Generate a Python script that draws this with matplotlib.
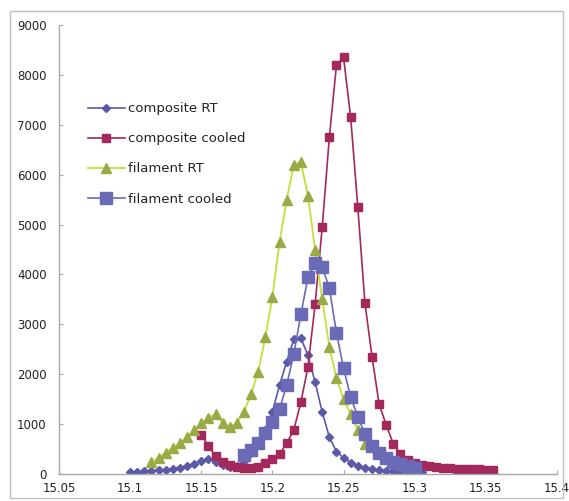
import matplotlib
matplotlib.use("Agg")
import matplotlib.pyplot as plt
from matplotlib.patches import Rectangle

# composite RT (diamonds)
x_comp_rt = [15.100, 15.105, 15.110, 15.115, 15.120, 15.125, 15.130, 15.135, 15.140, 15.145,
             15.150, 15.155, 15.160, 15.165, 15.170, 15.175, 15.180, 15.185, 15.190, 15.195,
             15.200, 15.205, 15.210, 15.215, 15.220, 15.225, 15.230, 15.235, 15.240, 15.245,
             15.250, 15.255, 15.260, 15.265, 15.270, 15.275, 15.280, 15.285, 15.290, 15.295,
             15.300, 15.305]
y_comp_rt = [40, 50, 55, 65, 75, 90, 110, 130, 160, 210,
             270, 300, 240, 180, 150, 160, 260, 420, 620, 880,
             1250, 1780, 2250, 2700, 2720, 2380, 1840, 1240, 740, 450,
             320, 230, 170, 130, 100, 80, 65, 55, 45, 40,
             35, 30]

# composite cooled (small squares)
x_comp_cool = [15.150, 15.155, 15.160, 15.165, 15.170, 15.175, 15.180, 15.185, 15.190, 15.195,
               15.200, 15.205, 15.210, 15.215, 15.220, 15.225, 15.230, 15.235, 15.240, 15.245,
               15.250, 15.255, 15.260, 15.265, 15.270, 15.275, 15.280, 15.285, 15.290, 15.295,
               15.300, 15.305, 15.310, 15.315, 15.320, 15.325, 15.330, 15.335, 15.340, 15.345,
               15.350, 15.355]
y_comp_cool = [780, 560, 360, 250, 190, 150, 130, 120, 150, 220,
               300, 400, 620, 880, 1440, 2150, 3400, 4950, 6750, 8200,
               8350, 7150, 5350, 3430, 2350, 1400, 980, 600, 400, 290,
               230, 190, 165, 145, 130, 120, 110, 105, 100, 95,
               90, 80]

# filament RT (triangles)
x_fil_rt = [15.115, 15.120, 15.125, 15.130, 15.135, 15.140, 15.145, 15.150, 15.155, 15.160,
            15.165, 15.170, 15.175, 15.180, 15.185, 15.190, 15.195, 15.200, 15.205, 15.210,
            15.215, 15.220, 15.225, 15.230, 15.235, 15.240, 15.245, 15.250, 15.255, 15.260,
            15.265]
y_fil_rt = [240, 330, 430, 530, 620, 740, 880, 1020, 1130, 1200,
            1030, 950, 1020, 1250, 1600, 2050, 2740, 3550, 4650, 5500,
            6200, 6250, 5580, 4500, 3500, 2550, 1920, 1500, 1200, 880,
            600]

# filament cooled (big squares)
x_fil_cool = [15.180, 15.185, 15.190, 15.195, 15.200, 15.205, 15.210, 15.215, 15.220, 15.225,
              15.230, 15.235, 15.240, 15.245, 15.250, 15.255, 15.260, 15.265, 15.270, 15.275,
              15.280, 15.285, 15.290, 15.295, 15.300]
y_fil_cool = [380, 480, 620, 820, 1050, 1300, 1780, 2400, 3200, 3950,
              4230, 4150, 3730, 2830, 2120, 1540, 1150, 800, 560, 420,
              320, 250, 200, 160, 130]

x_ticks = [15.05, 15.1, 15.15, 15.2, 15.25, 15.3, 15.35, 15.4]
x_labels = ["15.05", "15.1", "15.15", "15.2", "15.25", "15.3", "15.35", "15.4"]
y_ticks = [0, 1000, 2000, 3000, 4000, 5000, 6000, 7000, 8000, 9000]

plt.rcParams['font.family'] = ['DejaVu Sans']

fig = plt.figure(figsize=(5.69, 5.01), dpi=100)
ax = fig.add_axes([0.1037, 0.0539, 0.8752, 0.8961])

ax.plot(x_comp_rt, y_comp_rt, color="#5a5aa8", lw=1.2, marker="D", ms=4.5,
        mfc="#5a5aa8", mec="#5a5aa8", label="composite RT")
ax.plot(x_comp_cool, y_comp_cool, color="#a3285c", lw=1.2, marker="s", ms=5.5,
        mfc="#a3285c", mec="#a3285c", label="composite cooled")
ax.plot(x_fil_rt, y_fil_rt, color="#c8dc3a", lw=1.3, marker="^", ms=6.5,
        mfc="#9aab45", mec="#9aab45", label="filament RT")
ax.plot(x_fil_cool, y_fil_cool, color="#6a6ab6", lw=1.2, marker="s", ms=8,
        mfc="#6a6ab6", mec="#6a6ab6", label="filament cooled")

ax.set_xlim(15.05, 15.4)
ax.set_ylim(0, 9000)
ax.set_xticks(x_ticks)
ax.set_xticklabels(x_labels)
ax.set_yticks(y_ticks)

for s in ["top", "right"]:
    ax.spines[s].set_visible(False)
for s in ["left", "bottom"]:
    ax.spines[s].set_color("#a8a8a8")
    ax.spines[s].set_linewidth(1.0)
ax.tick_params(direction="in", length=3, color="#a8a8a8", labelsize=8.5,
               labelcolor="#222222")
ax.tick_params(axis="x", pad=6)
ax.tick_params(axis="y", pad=9)

leg = ax.legend(loc="upper left", bbox_to_anchor=(0.045, 0.843), frameon=False,
                fontsize=9.5, handlelength=2.8, handletextpad=0.2,
                labelspacing=1.3, borderpad=0)
for t in leg.get_texts():
    t.set_color("#222222")

fig.patches.append(Rectangle((10 / 569, 1 - 498 / 501), 553 / 569, 487 / 501,
                             transform=fig.transFigure, fill=False,
                             edgecolor="#c0c0c0", lw=1.0))

fig.savefig("out.png", dpi=100)
